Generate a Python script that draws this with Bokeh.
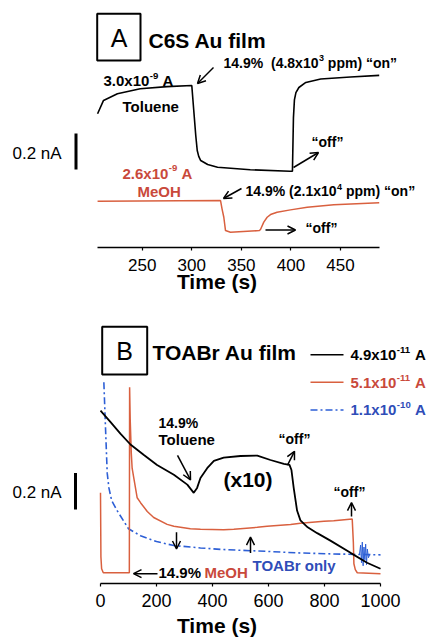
from bokeh.plotting import figure
from bokeh.models import Range1d, FixedTicker, Label, Arrow, OpenHead, BoxAnnotation
from bokeh.layouts import column
from bokeh.embed import file_html
from bokeh.resources import INLINE

FONT = "Liberation Sans"
RED = "#d9603f"
RED_TXT = "#c9493b"
BLUE = "#2d5fd6"
BLUE_TXT = "#2f4db8"

# ---------------- Panel A: C6S Au film (time in s, displayed current offset in nA)
a_tol_t = [205, 211, 225, 248, 275, 300, 302, 304, 305.5, 307, 309, 316, 326, 359, 399,
           401.5, 402.5, 403.5, 405, 408, 415, 430, 460, 489]
a_tol_i = [0.743, 0.817, 0.854, 0.882, 0.894, 0.900, 0.761, 0.622, 0.539, 0.506, 0.483, 0.461,
           0.446, 0.432, 0.424, 0.424, 0.720, 0.820, 0.860, 0.889, 0.917, 0.936, 0.947, 0.956]
a_meoh_t = [205, 329, 330.5, 332.3, 334, 339, 368, 369.3, 372.6, 376, 379.4, 386, 399.5,
            416.4, 443.2, 489]
a_meoh_i = [0.257, 0.261, 0.215, 0.168, 0.094, 0.085, 0.094, 0.100, 0.141, 0.168, 0.183,
            0.196, 0.209, 0.224, 0.237, 0.248]
a_ticks = [250, 300, 350, 400, 450]

# ---------------- Panel B: TOABr Au film
b_tol_t = [0, 36, 71, 107, 155, 202, 262, 310, 333, 345, 357, 381, 405, 440, 500, 560, 607,
           655, 675, 682, 690, 702, 714, 740, 774, 821, 893, 952, 1000]
b_tol_i = [0.948, 0.885, 0.822, 0.762, 0.704, 0.650, 0.596, 0.542, 0.497, 0.524, 0.578, 0.632,
           0.672, 0.690, 0.699, 0.701, 0.677, 0.656, 0.650, 0.622, 0.524, 0.400, 0.346, 0.308,
           0.276, 0.235, 0.168, 0.114, 0.081]
b_meoh_t = [0, 1.5, 4, 10, 103, 104, 106, 110, 113, 119, 131, 143, 167, 190, 238, 262, 321,
            357, 440, 476, 560, 595, 679, 714, 798, 833, 899, 903, 905, 910, 917, 1000]
b_meoh_i = [0.497, 0.146, 0.081, 0.059, 0.059, 1.076, 0.903, 0.714, 0.632, 0.578, 0.470,
            0.443, 0.395, 0.362, 0.324, 0.314, 0.300, 0.297, 0.295, 0.297, 0.308, 0.314,
            0.324, 0.330, 0.341, 0.344, 0.353, 0.227, 0.108, 0.076, 0.059, 0.054]
b_only_t = [12, 18, 24, 30, 40, 60, 100, 143, 200, 262, 357, 440, 595, 700, 833, 1000]
b_only_i = [1.103, 0.849, 0.605, 0.524, 0.454, 0.398, 0.300, 0.262, 0.230, 0.208, 0.195,
            0.186, 0.176, 0.168, 0.162, 0.157]
b_noise_t = [925, 929, 932, 935, 938, 941, 944, 947, 950, 953, 957, 962]
b_noise_i = [0.162, 0.211, 0.114, 0.227, 0.097, 0.200, 0.130, 0.216, 0.103, 0.189, 0.141, 0.162]
b_ticks = [0, 200, 400, 600, 800, 1000]
legend_base = ["4.9x10", "5.1x10", "1.1x10"]
legend_exp = ["-11", "-11", "-10"]
scale_nA = 0.2

W = 433
HA = 300
HB = 339

# pixel helpers for annotation placement (canvas pixels)
A_PPS = 0.9917
A_X0 = 250 - 141.7 / A_PPS
A_PPN = 180.0
A_AX = 247
def ax(px): return A_X0 + px / A_PPS
def ay(py): return (A_AX - py) / A_PPN

B_PPS = 0.28
B_X0 = -100 / B_PPS
B_PPN = 185.0
B_AX = 587
def bx(px): return B_X0 + px / B_PPS
def by(py): return (B_AX - py) / B_PPN

# Arial/Liberation Sans Bold advance widths (per 1000 em)
AW = {' ': 278, '\u00a0': 278, '%': 889, '(': 333, ')': 333, '.': 278, 'x': 556, 'A': 722,
      'p': 611, 'm': 889, 'o': 611, 'n': 611, '\u201c': 500, '\u201d': 500, '-': 333}
def tw(s, size): return sum(AW.get(c, 556) for c in s) / 1000.0 * size


def style_axis(p, ticks, bounds, lab_size, standoff, lab_standoff):
    xa = p.xaxis[0]
    xa.ticker = FixedTicker(ticks=ticks)
    xa.bounds = bounds
    xa.axis_line_width = 1.5
    xa.axis_line_color = "black"
    xa.major_tick_out = 3
    xa.major_tick_in = 0
    xa.major_tick_line_width = 1.2
    xa.minor_tick_line_color = None
    xa.major_label_text_font = FONT
    xa.major_label_text_font_size = lab_size
    xa.major_label_text_color = "black"
    xa.major_label_standoff = standoff
    xa.axis_label = "Time (s)"
    xa.axis_label_text_font = FONT
    xa.axis_label_text_font_size = "21px"
    xa.axis_label_text_font_style = "bold"
    xa.axis_label_text_color = "black"
    xa.axis_label_standoff = lab_standoff


def lab(p, x, y, text, size=14, color="black", bold=True, align="left"):
    p.add_layout(Label(x=x, y=y, text=text, text_font=FONT, text_font_size=f"{size}px",
                       text_font_style="bold" if bold else "normal", text_color=color,
                       text_baseline="middle", text_align=align))


def sup_lab(p, fx, fy, xpx, ypx, base, sup, tail, size=14, color="black"):
    lab(p, fx(xpx), fy(ypx), base, size, color)
    x2 = xpx + tw(base, size) + 0.5
    ss = round(size * 0.64, 1)
    lab(p, fx(x2), fy(ypx - size * 0.32), sup, ss, color)
    x3 = x2 + tw(sup, ss)
    if tail.startswith(" "):
        x3 += tw(" ", size)
        tail = tail[1:]
    lab(p, fx(x3), fy(ypx), tail, size, color)


def arr(p, x0, y0, x1, y1):
    p.add_layout(Arrow(end=OpenHead(size=8, line_width=1.5, line_color="black"),
                       x_start=x0, y_start=y0, x_end=x1, y_end=y1,
                       line_width=1.5, line_color="black"))


def box(p, l, r, t, b):
    p.add_layout(BoxAnnotation(left=l, right=r, top=t, bottom=b, fill_color=None,
                               fill_alpha=0, line_color="black", line_alpha=1.0,
                               line_width=2))


def base_fig(h, xr, yr, bottom):
    p = figure(width=W, height=h, output_backend="svg", toolbar_location=None,
               x_range=xr, y_range=yr, y_axis_type=None, min_border=0,
               min_border_left=0, min_border_right=0, min_border_top=0,
               min_border_bottom=bottom)
    p.grid.visible = False
    p.outline_line_color = None
    p.background_fill_color = "white"
    p.border_fill_color = "white"
    return p

# ---------------- figure A
pA = base_fig(HA, Range1d(ax(0), ax(W)), Range1d(0, A_AX / A_PPN), HA - A_AX)
style_axis(pA, a_ticks, (204.6, 489.3), "17px", 8, -4)
pA.line(a_tol_t, a_tol_i, line_color="black", line_width=1.6)
pA.line(a_meoh_t, a_meoh_i, line_color=RED, line_width=1.5)

box(pA, ax(96.7), ax(140), ay(13.3), ay(60))
lab(pA, ax(118.5), ay(37.5), "A", size=25, bold=False, align="center")
lab(pA, ax(148), ay(39.5), "C6S Au film", size=21)
sup_lab(pA, ax, ay, 223, 62, "14.9%\u00a0 (4.8x10", "3", " ppm) \u201con\u201d", 14)
sup_lab(pA, ax, ay, 103, 80, "3.0x10", "-9", " A", 15)
lab(pA, ax(122), ay(106), "Toluene", 15)
lab(pA, ax(311), ay(141), "\u201coff\u201d", 14)
sup_lab(pA, ax, ay, 122, 172.5, "2.6x10", "-9", " A", 15, RED_TXT)
lab(pA, ax(137), ay(190.5), "MeOH", 15, RED_TXT)
sup_lab(pA, ax, ay, 245, 190.5, "14.9% (2.1x10", "4", " ppm) \u201con\u201d", 14)
lab(pA, ax(305), ay(227.5), "\u201coff\u201d", 14)
lab(pA, ax(12), ay(153), "0.2 nA", size=17, bold=False)
arr(pA, ax(213), ay(67), ax(197), ay(83))
arr(pA, ax(293), ay(167), ax(318), ay(152))
arr(pA, ax(241), ay(188), ax(223), ay(198))
arr(pA, ax(265), ay(229.5), ax(295), ay(229.5))
pA.line([ax(75.5), ax(75.5)], [ay(169), ay(169) + scale_nA], line_color="black", line_width=3)

# ---------------- figure B
pB = base_fig(HB, Range1d(bx(0), bx(W)), Range1d(0, (B_AX - 300) / B_PPN), HA + HB - B_AX)
style_axis(pB, b_ticks, (0, 1000), "18px", 7, 4)
pB.line(b_only_t, b_only_i, line_color=BLUE, line_width=1.6, line_dash="7 3 2 3")
pB.line(b_noise_t, b_noise_i, line_color=BLUE, line_width=1.0)
pB.line(b_meoh_t, b_meoh_i, line_color=RED, line_width=1.5)
pB.line(b_tol_t, b_tol_i, line_color="black", line_width=1.8)

box(pB, bx(101.7), bx(146.7), by(326.7), by(375))
lab(pB, bx(124), by(351.5), "B", size=25, bold=False, align="center")
lab(pB, bx(152), by(352.5), "TOABr Au film", size=21)
# custom legend
leg_colors = ["black", RED, BLUE]
leg_txt_colors = ["black", RED_TXT, BLUE_TXT]
leg_dash = ["solid", "solid", "7 3 2 3"]
for k, yy in enumerate([355, 383, 411]):
    pB.line([bx(310), bx(343)], [by(yy), by(yy)], line_color=leg_colors[k], line_width=1.5,
            line_dash=leg_dash[k])
    sup_lab(pB, bx, by, 350, yy, legend_base[k], legend_exp[k], " A", 15, leg_txt_colors[k])
lab(pB, bx(158), by(424), "14.9%", 14)
lab(pB, bx(158), by(441), "Toluene", 15)
lab(pB, bx(223), by(482), "(x10)", size=21)
lab(pB, bx(278), by(440), "\u201coff\u201d", 14)
lab(pB, bx(333), by(494), "\u201coff\u201d", 14)
lab(pB, bx(158), by(576), "14.9%", 15)
lab(pB, bx(204), by(576), "MeOH", 15, RED_TXT)
lab(pB, bx(252), by(569), "TOABr only", 15, BLUE_TXT)
lab(pB, bx(12), by(495), "0.2 nA", size=17, bold=False)
arr(pB, bx(177), by(457), bx(190), by(482))
arr(pB, bx(287), by(467), bx(294), by(453))
arr(pB, bx(351), by(519), bx(351), by(505))
arr(pB, bx(176), by(535), bx(176), by(552))
arr(pB, bx(250), by(556), bx(250), by(540))
arr(pB, bx(157), by(577), bx(133), by(577))
pB.line([bx(75), bx(75)], [by(512), by(512) + scale_nA], line_color="black", line_width=3)

layout = column(pA, pB, spacing=0)
open("out.html", "w").write(file_html(layout, INLINE))
